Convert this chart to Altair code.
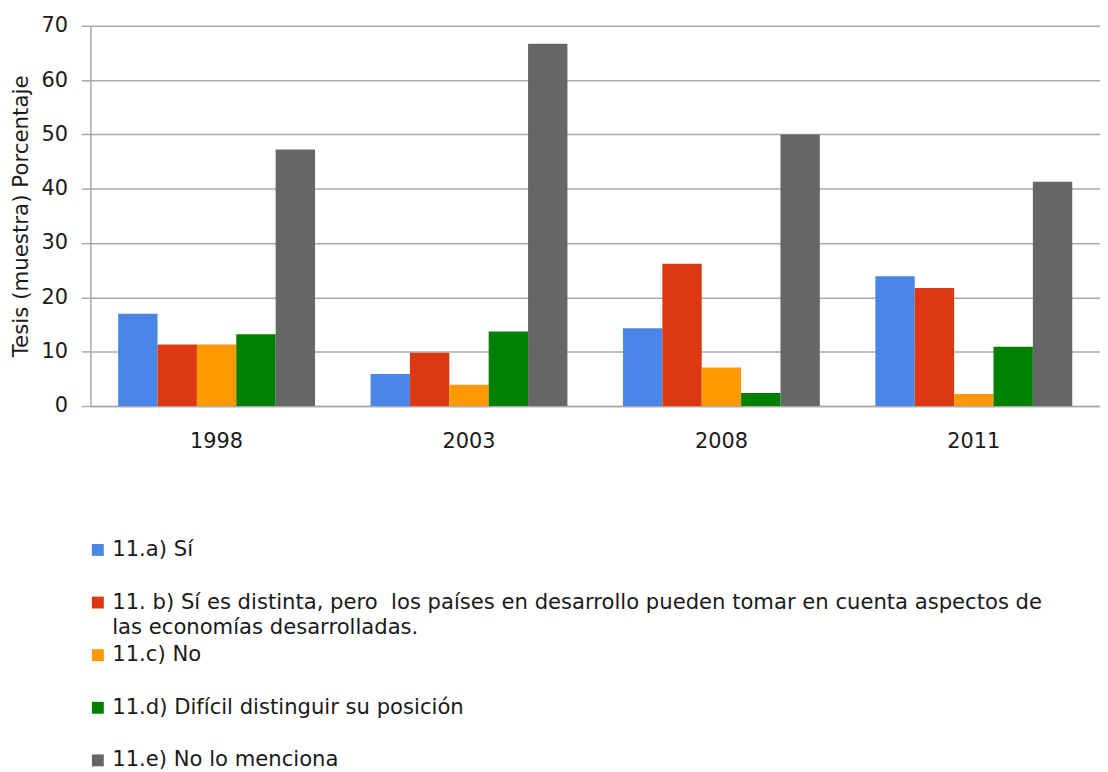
import altair as alt
import pandas as pd

FONT = "DejaVu Sans"
GRID = "#A9A9A9"
TXT = "#1a1a1a"

years = ["1998", "2003", "2008", "2011"]
series_keys = ["a", "b", "c", "d", "e"]
legend_line1 = [
    "11.a) Sí",
    "11. b) Sí es distinta, pero \u00a0los países en desarrollo pueden tomar en cuenta aspectos de",
    "11.c) No",
    "11.d) Difícil distinguir su posición",
    "11.e) No lo menciona",
]
legend_line2 = ["", "las economías desarrolladas.", "", "", ""]
colors = ["#4A86E8", "#DC3912", "#FF9900", "#008000", "#666666"]

vals_a = [17.0, 5.9, 14.3, 23.9]
vals_b = [11.3, 9.8, 26.2, 21.7]
vals_c = [11.3, 3.9, 7.1, 2.2]
vals_d = [13.2, 13.7, 2.4, 10.9]
vals_e = [47.2, 66.7, 50.0, 41.3]
y_ticks = [0, 10, 20, 30, 40, 50, 60, 70]

rows = []
for k, vals in zip(series_keys, [vals_a, vals_b, vals_c, vals_d, vals_e]):
    for yr, v in zip(years, vals):
        rows.append({"year": yr, "serie": k, "value": v})
df = pd.DataFrame(rows)

color_scale = alt.Scale(domain=series_keys, range=colors)

bars = alt.Chart(df).mark_bar().encode(
    x=alt.X(
        "year:N", sort=years, title=None,
        scale=alt.Scale(paddingInner=0.22, paddingOuter=0.11),
        axis=alt.Axis(labelAngle=0, ticks=False, tickSize=0, labelPadding=25,
                      labelFontSize=21, labelFont=FONT, labelColor=TXT,
                      domainColor=GRID, domainWidth=1.5, grid=False),
    ),
    xOffset=alt.XOffset("serie:N", sort=series_keys,
                        scale=alt.Scale(paddingInner=0, paddingOuter=0)),
    y=alt.Y(
        "value:Q", title="Tesis (muestra) Porcentaje",
        scale=alt.Scale(domain=[0, 70], nice=False),
        axis=alt.Axis(values=y_ticks, tickSize=9, tickColor=GRID, tickWidth=1.5,
                      labelPadding=14, labelFontSize=21, labelFont=FONT, labelColor=TXT,
                      titleFontSize=21.5, titleFont=FONT, titleColor=TXT, titleFontWeight="normal",
                      titlePadding=9, domainColor=GRID, domainWidth=1.5,
                      grid=True, gridColor=GRID, gridWidth=1.5),
    ),
    color=alt.Color("serie:N", scale=color_scale, legend=None),
).properties(width=1017, height=383)

leg_df = pd.DataFrame({"serie": series_keys, "line1": legend_line1, "line2": legend_line2})
leg_base = alt.Chart(leg_df).encode(
    y=alt.Y("serie:N", sort=series_keys, axis=None,
            scale=alt.Scale(type="point", padding=0))
)
squares = leg_base.mark_square(size=144, opacity=1, filled=True).encode(
    x=alt.value(7.5),
    color=alt.Color("serie:N", scale=color_scale, legend=None),
)
text1 = leg_base.mark_text(align="left", baseline="middle", fontSize=21.3, font=FONT,
                           color=TXT).encode(x=alt.value(22), text="line1:N")
text2 = leg_base.mark_text(align="left", baseline="middle", fontSize=21.3, font=FONT,
                           color=TXT, dy=26).encode(x=alt.value(22), text="line2:N")
legend = alt.layer(squares, text1, text2).properties(width=1017, height=212)

chart = alt.vconcat(bars, legend, spacing=88).properties(
    padding={"left": 2, "top": 4, "right": 0, "bottom": 0},
    background="white",
).configure_view(stroke=None)

chart.save("out.html", embed_options={"renderer": "svg", "actions": False})
